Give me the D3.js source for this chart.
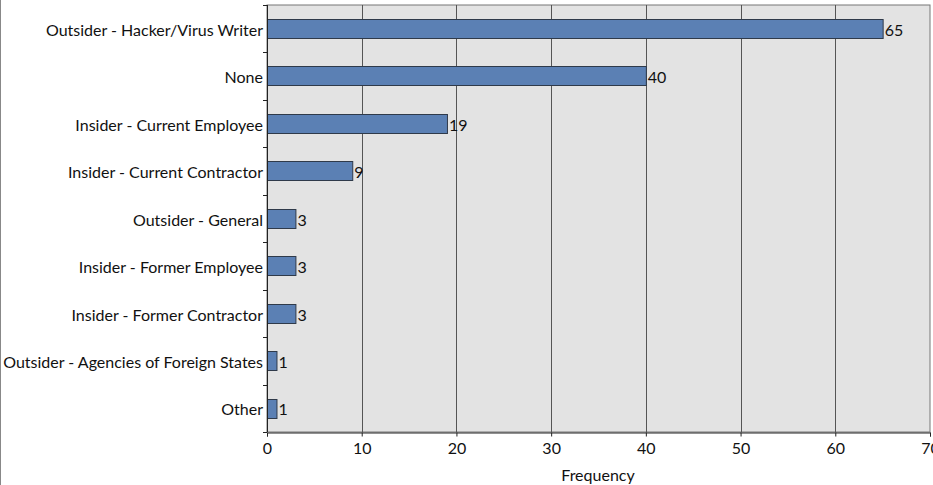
<!DOCTYPE html>
<html>
<head>
<meta charset="utf-8">
<script src="https://cdn.jsdelivr.net/npm/d3@7"></script>
<style>
html,body{margin:0;padding:0;background:#fff;}
svg{display:block;}
text{font-family:Lato,"Open Sans",sans-serif;fill:#111;}
</style>
</head>
<body>
<svg id="chart" width="933" height="485"></svg>
<script>
const categories = [
  "Outsider - Hacker/Virus Writer",
  "None",
  "Insider - Current Employee",
  "Insider - Current Contractor",
  "Outsider - General",
  "Insider - Former Employee",
  "Insider - Former Contractor",
  "Outsider - Agencies of Foreign States",
  "Other"
];
const values = [65, 40, 19, 9, 3, 3, 3, 1, 1];
const xTicks = [0, 10, 20, 30, 40, 50, 60, 70];
const xTitle = "Frequency";

const svg = d3.select("#chart");
const W = 933, H = 485;
const m = {left: 267, right: 3, top: 5, bottom: 53};
const pw = 930 - m.left, ph = 432 - m.top;
const FS = 16;

// outer left border line
svg.append("line").attr("x1", 0.5).attr("x2", 0.5).attr("y1", 0).attr("y2", H)
  .attr("stroke", "#888").attr("stroke-width", 1);

const x = d3.scaleLinear().domain([0, 70]).range([m.left, m.left + pw]);
const y = d3.scaleBand().domain(categories).range([m.top, m.top + ph]).paddingInner(0.59).paddingOuter(0.295);
const yb = d3.scaleBand().domain(categories).range([m.top, m.top + ph]);

// plot background
svg.append("rect").attr("x", m.left).attr("y", m.top).attr("width", pw).attr("height", ph)
  .attr("fill", "#e3e3e3").attr("stroke", "#777").attr("stroke-width", 1);

// gridlines
svg.append("g").selectAll("line").data(xTicks.filter(d => d > 0 && d < 70)).join("line")
  .attr("x1", d => Math.round(x(d)) + 0.5).attr("x2", d => Math.round(x(d)) + 0.5)
  .attr("y1", m.top).attr("y2", m.top + ph)
  .attr("stroke", "#555").attr("stroke-width", 1);

// bars
svg.append("g").selectAll("rect").data(values).join("rect")
  .attr("x", x(0) + 0.5)
  .attr("y", (d, i) => Math.round(y(categories[i])) + 0.5)
  .attr("width", d => x(d) - x(0))
  .attr("height", Math.round(y.bandwidth()))
  .attr("fill", "#5b80b4").attr("stroke", "#2f3a4a").attr("stroke-width", 1);

// value labels
svg.append("g").selectAll("text").data(values).join("text")
  .attr("x", d => x(d) + 2)
  .attr("y", (d, i) => y(categories[i]) + y.bandwidth() / 2)
  .attr("dy", "0.45em")
  .attr("font-size", FS)
  .text(d => d);

// x axis
const xAxis = d3.axisBottom(x).tickValues(xTicks).tickSize(4).tickFormat(d3.format("d"));
const gx = svg.append("g").attr("transform", `translate(0,${m.top + ph + 0.5})`).call(xAxis);
gx.select(".domain").attr("stroke", "#222");
gx.selectAll(".tick line").attr("stroke", "#222");
gx.selectAll(".tick text").attr("font-size", FS).attr("dy", "0.9em").attr("font-family", "Lato,'Open Sans',sans-serif").attr("fill", "#111");

// y axis line + ticks at band boundaries
svg.append("line").attr("x1", m.left + 0.5).attr("x2", m.left + 0.5).attr("y1", m.top).attr("y2", m.top + ph)
  .attr("stroke", "#222");
const bounds = categories.map(c => yb(c)).concat([m.top + ph]);
svg.append("g").selectAll("line").data(bounds).join("line")
  .attr("x1", m.left - 4).attr("x2", m.left)
  .attr("y1", d => Math.round(d) + 0.5).attr("y2", d => Math.round(d) + 0.5)
  .attr("stroke", "#222");

// y labels
svg.append("g").selectAll("text").data(categories).join("text")
  .attr("x", m.left - 4)
  .attr("y", d => y(d) + y.bandwidth() / 2)
  .attr("dy", "0.45em")
  .attr("text-anchor", "end")
  .attr("font-size", FS)
  .text(d => d);

// x title
svg.append("text").attr("x", 598).attr("y", 481).attr("text-anchor", "middle")
  .attr("font-size", FS).text(xTitle);
</script>
</body>
</html>
